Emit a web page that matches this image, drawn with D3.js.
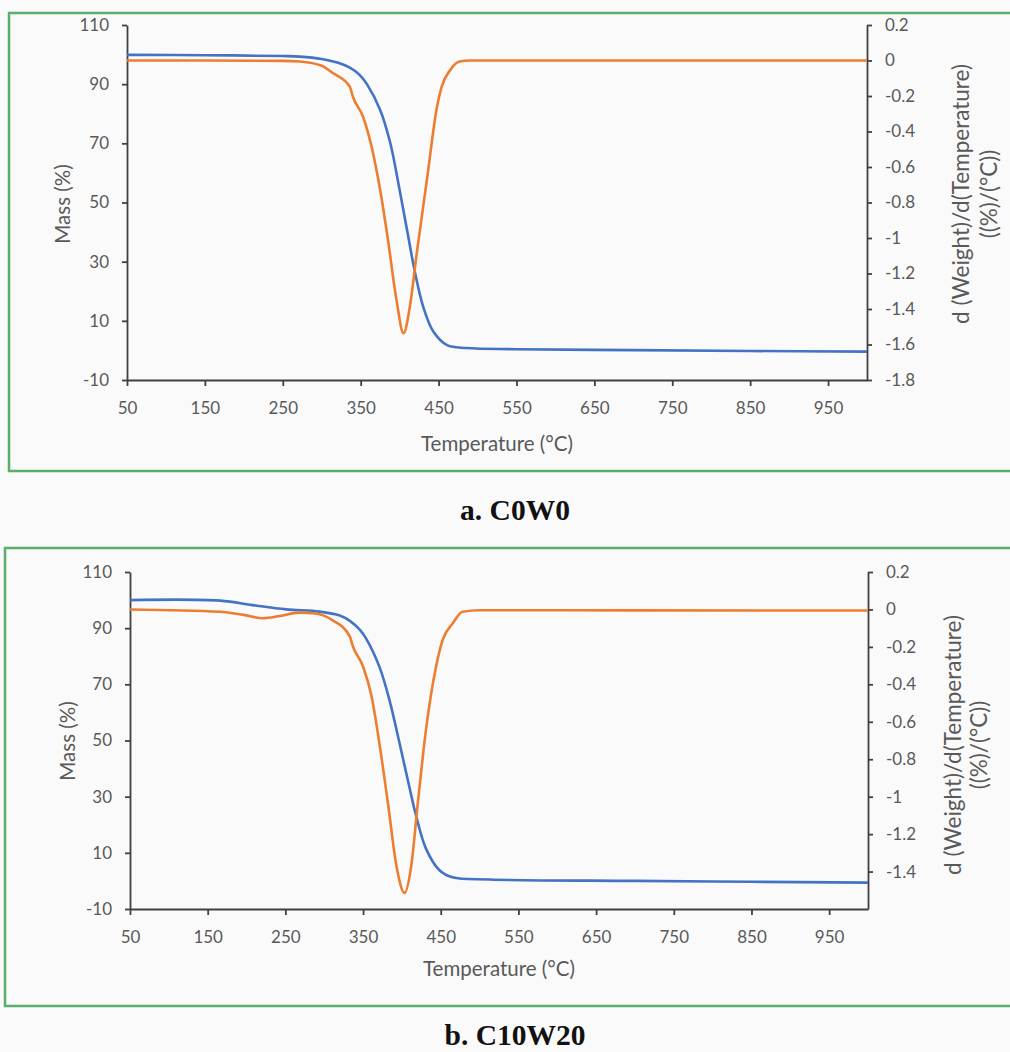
<!DOCTYPE html>
<html>
<head>
<meta charset="utf-8">
<script src="https://cdn.jsdelivr.net/npm/d3@7"></script>
<style>
  html, body { margin: 0; padding: 0; background: #fafafa; }
  svg { display: block; }
  .tick text { font-family: Lato, "Open Sans", sans-serif; font-size: 17px; fill: #595959; }
  .axis path, .axis line { stroke: #404040; stroke-width: 1.8; }
  .title { font-family: Lato, "Open Sans", sans-serif; font-size: 20.5px; fill: #595959; }
  .rtitle { font-size: 22.5px; }
  .caption { font-family: "Liberation Serif", "Times New Roman", serif; font-weight: bold; font-size: 29.5px; fill: #111; }
</style>
</head>
<body>
<svg id="chart" width="1010" height="1052"></svg>
<script>
// ---- data ----
// a. C0W0
var tempMassA = [50, 150, 250, 272, 300, 320, 336, 348, 358, 375, 388, 400, 410, 420, 430, 443, 461, 486, 550, 700, 850, 1000];
var massA     = [99.9, 99.8, 99.5, 99.3, 98.5, 97.3, 95.6, 93.3, 90.0, 81.3, 70.1, 54.2, 40, 26, 15, 6.5, 1.8, 0.8, 0.4, 0.1, -0.2, -0.4];
var tempDtgA  = [50, 150, 250, 272, 300, 314, 336, 340, 353, 364, 375, 385, 396, 405, 413, 422, 435, 448, 454, 465, 477, 490, 600, 800, 1000];
var dtgA      = [0, 0, -0.002, -0.006, -0.03, -0.07, -0.147, -0.204, -0.317, -0.486, -0.73, -1.01, -1.35, -1.537, -1.39, -1.085, -0.673, -0.26, -0.147, -0.053, -0.006, 0, 0, 0, 0];

// b. C10W20
var tempMassB = [50, 166, 208, 251, 294, 320, 333, 346, 354, 371, 384, 397, 410, 418, 431, 448, 465, 513, 700, 850, 1000];
var massB     = [100, 99.8, 98.2, 96.7, 95.9, 94.5, 92.6, 89.4, 86.3, 76.3, 64.4, 49, 33, 23.5, 11.5, 3.9, 1.3, 0.5, 0.0, -0.3, -0.6];
var tempDtgB  = [50, 166, 196, 221, 243, 268, 286, 311, 333, 337, 350, 361, 371, 382, 393, 403.5, 412, 420.5, 431, 444, 452.5, 465.5, 478, 500, 700, 1000];
var dtgB      = [0, -0.012, -0.029, -0.047, -0.035, -0.017, -0.02, -0.058, -0.145, -0.198, -0.305, -0.465, -0.714, -1.034, -1.37, -1.514, -1.37, -1.034, -0.643, -0.305, -0.163, -0.074, -0.012, -0.004, -0.005, -0.006];

var tempTicks = [50, 150, 250, 350, 450, 550, 650, 750, 850, 950];
var massTicks = [110, 90, 70, 50, 30, 10, -10];
var dtgTicksA = [0.2, 0, -0.2, -0.4, -0.6, -0.8, -1, -1.2, -1.4, -1.6, -1.8];
var dtgTicksB = [0.2, 0, -0.2, -0.4, -0.6, -0.8, -1, -1.2, -1.4];

var svg = d3.select("#chart");

// plain hyphen for negatives, like the original
function fmt(d) { return String(+d.toFixed(1)); }

var panels = [
  { box: [9, 13, 1030, 471], plot: [127, 867, 25, 380], dtgMin: -1.8, dtgTicks: dtgTicksA,
    tm: tempMassA, m: massA, td: tempDtgA, d: dtgA, caption: "a. C0W0", capY: 520,
    massTitle: [62, 204], tempTitle: [497, 443], rTitle: [960, 988, 194] },
  { box: [5, 548, 1030, 1006], plot: [130, 868, 572, 909], dtgMin: -1.6, dtgTicks: dtgTicksB,
    tm: tempMassB, m: massB, td: tempDtgB, d: dtgB, caption: "b. C10W20", capY: 1045,
    massTitle: [67, 741], tempTitle: [499, 968], rTitle: [952, 978, 745] }
];

panels.forEach(drawPanel);

function drawPanel(p) {
  var g = svg.append("g");

  // green frame
  g.append("rect")
    .attr("x", p.box[0]).attr("y", p.box[1])
    .attr("width", p.box[2] - p.box[0]).attr("height", p.box[3] - p.box[1])
    .attr("fill", "#fafafa").attr("stroke", "#5aae6e").attr("stroke-width", 2.5);

  var x = d3.scaleLinear().domain([50, 1000]).range([p.plot[0], p.plot[1]]);
  var yL = d3.scaleLinear().domain([-10, 110]).range([p.plot[3], p.plot[2]]);
  var yR = d3.scaleLinear().domain([p.dtgMin, 0.2]).range([p.plot[3], p.plot[2]]);

  // axes
  var xAxis = g.append("g").attr("class", "axis")
    .attr("transform", "translate(0," + p.plot[3] + ")")
    .call(d3.axisBottom(x).tickValues(tempTicks).tickSize(6).tickSizeOuter(0));
  xAxis.selectAll(".tick text").attr("y", 28).attr("dy", "0.35em");

  g.append("g").attr("class", "axis")
    .attr("transform", "translate(" + p.plot[0] + ",0)")
    .call(d3.axisLeft(yL).tickValues(massTicks).tickSize(5).tickPadding(13).tickSizeOuter(0).tickFormat(fmt));

  g.append("g").attr("class", "axis")
    .attr("transform", "translate(" + p.plot[1] + ",0)")
    .call(d3.axisRight(yR).tickValues(p.dtgTicks).tickSize(5).tickPadding(13).tickSizeOuter(0).tickFormat(fmt));

  // curves
  var massLine = d3.line()
    .x(function (d) { return x(d[0]); })
    .y(function (d) { return yL(d[1]); })
    .curve(d3.curveCatmullRom.alpha(0.5));
  var dtgLine = d3.line()
    .x(function (d) { return x(d[0]); })
    .y(function (d) { return yR(d[1]); })
    .curve(d3.curveMonotoneX);

  g.append("path")
    .datum(d3.zip(p.tm, p.m))
    .attr("d", massLine)
    .attr("fill", "none").attr("stroke", "#4472C4").attr("stroke-width", 2.6);

  g.append("path")
    .datum(d3.zip(p.td, p.d))
    .attr("d", dtgLine)
    .attr("fill", "none").attr("stroke", "#ED7D31").attr("stroke-width", 2.6);

  // titles
  g.append("text").attr("class", "title")
    .attr("transform", "translate(" + p.massTitle[0] + "," + p.massTitle[1] + ") rotate(-90)")
    .attr("text-anchor", "middle").attr("dominant-baseline", "central")
    .text("Mass (%)");

  g.append("text").attr("class", "title")
    .attr("x", p.tempTitle[0]).attr("y", p.tempTitle[1])
    .attr("text-anchor", "middle").attr("dominant-baseline", "central")
    .text("Temperature (°C)");

  g.append("text").attr("class", "title rtitle")
    .attr("transform", "translate(" + p.rTitle[0] + "," + p.rTitle[2] + ") rotate(-90)")
    .attr("text-anchor", "middle").attr("dominant-baseline", "central")
    .text("d (Weight)/d(Temperature)");
  g.append("text").attr("class", "title rtitle")
    .attr("transform", "translate(" + p.rTitle[1] + "," + p.rTitle[2] + ") rotate(-90)")
    .attr("text-anchor", "middle").attr("dominant-baseline", "central")
    .text("((%)/(°C))");

  // caption under the frame
  svg.append("text").attr("class", "caption")
    .attr("x", 515).attr("y", p.capY)
    .attr("text-anchor", "middle")
    .text(p.caption);
}
</script>
</body>
</html>
